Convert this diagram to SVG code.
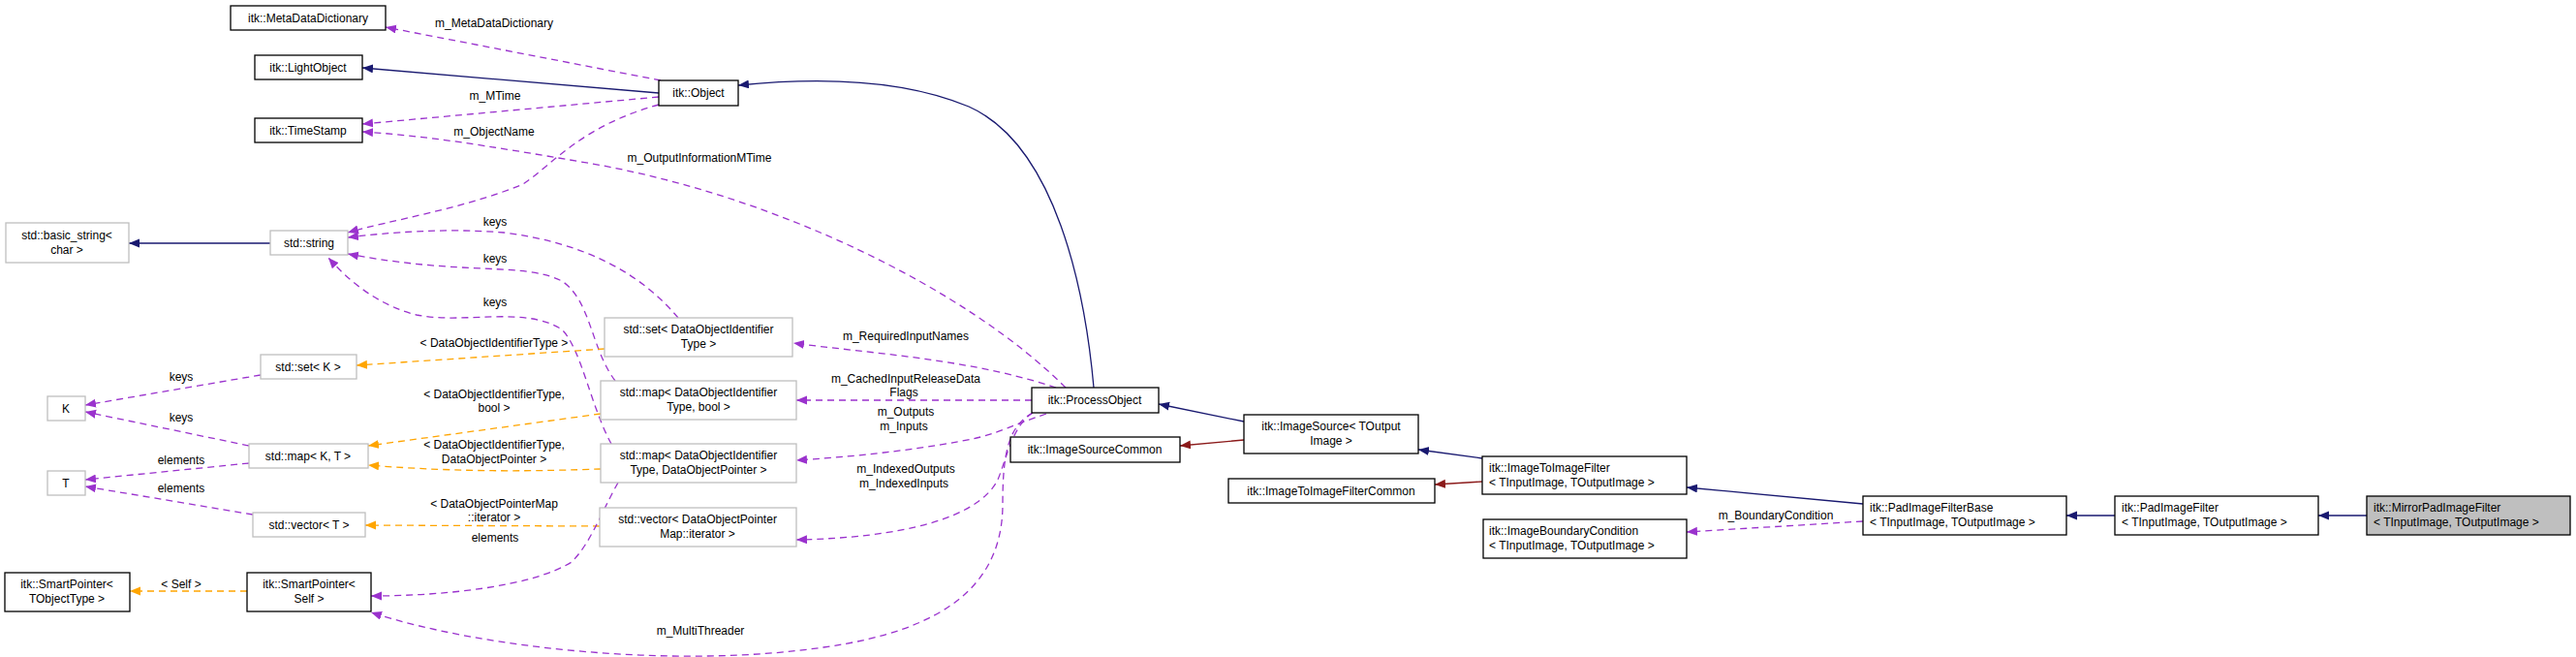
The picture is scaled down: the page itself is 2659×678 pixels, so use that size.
<svg xmlns="http://www.w3.org/2000/svg" width="2659" height="678" viewBox="0 0 2659 678">
<style>
text{font-family:"Liberation Sans",Arial,sans-serif;font-size:12px;fill:#000}
.n rect{fill:#fff;stroke:#000;stroke-width:1.3}
.g rect{fill:#fff;stroke:#bfbfbf;stroke-width:1.3}
.c{text-anchor:middle}
.e path{fill:none;stroke-width:1.3}
.b{stroke:#191970}
.r{stroke:#8b1a1a}
.p{stroke:#9a32cd;stroke-dasharray:7,5}
.o{stroke:#ffa500;stroke-dasharray:7,5}
</style>
<defs>
<marker id="mb" markerUnits="userSpaceOnUse" markerWidth="12" markerHeight="10" refX="11" refY="4.5" orient="auto"><path d="M0,0L11,4.5L0,9z" fill="#191970"/></marker>
<marker id="mr" markerUnits="userSpaceOnUse" markerWidth="12" markerHeight="10" refX="11" refY="4.5" orient="auto"><path d="M0,0L11,4.5L0,9z" fill="#8b1a1a"/></marker>
<marker id="mp" markerUnits="userSpaceOnUse" markerWidth="12" markerHeight="10" refX="11" refY="4.5" orient="auto"><path d="M0,0L11,4.5L0,9z" fill="#9a32cd"/></marker>
<marker id="mo" markerUnits="userSpaceOnUse" markerWidth="12" markerHeight="10" refX="11" refY="4.5" orient="auto"><path d="M0,0L11,4.5L0,9z" fill="#ffa500"/></marker>
</defs>
<rect width="2659" height="678" fill="#fff"/>
<g id="edges" class="e">
<path class="b" marker-end="url(#mb)" d="M680,96L374,70"/>
<path class="b" marker-end="url(#mb)" d="M1129,400C1120,300 1090,150 1000,110C940,85 860,78 762,88"/>
<path class="p" marker-end="url(#mp)" d="M682,83L398,28"/>
<path class="p" marker-end="url(#mp)" d="M680,100L374,128"/>
<path class="p" marker-end="url(#mp)" d="M1100,400C1000,300 800,200 600,167C500,150 440,140 374,136"/>
<path class="p" marker-end="url(#mp)" d="M680,108C600,130 570,170 540,190C480,215 400,228 359,240"/>
<path class="b" marker-end="url(#mb)" d="M279,251L133,251"/>
<path class="p" marker-end="url(#mp)" d="M700,328C660,280 600,250 520,240C460,235 400,240 359,245"/>
<path class="p" marker-end="url(#mp)" d="M635,393C610,360 610,310 580,290C540,270 480,285 359,262"/>
<path class="p" marker-end="url(#mp)" d="M631,458C610,420 600,360 580,340C540,315 480,335 430,325C390,315 360,290 339,266"/>
<path class="o" marker-end="url(#mo)" d="M624,360L368,377"/>
<path class="p" marker-end="url(#mp)" d="M269,387L88,418"/>
<path class="p" marker-end="url(#mp)" d="M257,460L88,425"/>
<path class="p" marker-end="url(#mp)" d="M257,478L88,495"/>
<path class="p" marker-end="url(#mp)" d="M261,531L88,502"/>
<path class="o" marker-end="url(#mo)" d="M620,427L380,460"/>
<path class="o" marker-end="url(#mo)" d="M620,484C560,486 480,488 380,480"/>
<path class="o" marker-end="url(#mo)" d="M619,543L377,542"/>
<path class="o" marker-end="url(#mo)" d="M255,610L134,610"/>
<path class="p" marker-end="url(#mp)" d="M638,498C620,530 610,560 590,580C550,605 460,615 383,615"/>
<path class="p" marker-end="url(#mp)" d="M1066,426C1040,440 1035,470 1035,520C1035,600 980,650 850,668C700,690 500,670 383,632"/>
<path class="p" marker-end="url(#mp)" d="M1090,400C1000,370 900,365 819,354"/>
<path class="p" marker-end="url(#mp)" d="M1065,413L822,413"/>
<path class="p" marker-end="url(#mp)" d="M1080,427C1050,437 1030,447 1008,452C960,462 900,470 822,475"/>
<path class="p" marker-end="url(#mp)" d="M1066,426C1045,440 1040,470 1030,495C1010,535 930,555 822,557"/>
<path class="b" marker-end="url(#mb)" d="M1284,435L1196,417"/>
<path class="r" marker-end="url(#mr)" d="M1284,454L1218,460"/>
<path class="b" marker-end="url(#mb)" d="M1530,473L1464,464"/>
<path class="r" marker-end="url(#mr)" d="M1530,497L1481,500"/>
<path class="b" marker-end="url(#mb)" d="M1923,520L1741,503"/>
<path class="p" marker-end="url(#mp)" d="M1923,538L1741,549"/>
<path class="b" marker-end="url(#mb)" d="M2183,532L2133,532"/>
<path class="b" marker-end="url(#mb)" d="M2443,532L2393,532"/>
</g>
<g id="labels" class="c">
<text x="510" y="28">m_MetaDataDictionary</text>
<text x="511" y="103">m_MTime</text>
<text x="510" y="140">m_ObjectName</text>
<text x="722" y="167">m_OutputInformationMTime</text>
<text x="511" y="233">keys</text>
<text x="511" y="271">keys</text>
<text x="511" y="316">keys</text>
<text x="510" y="358">&lt; DataObjectIdentifierType &gt;</text>
<text x="187" y="393">keys</text>
<text x="187" y="435">keys</text>
<text x="187" y="479">elements</text>
<text x="187" y="508">elements</text>
<text x="510" y="411">&lt; DataObjectIdentifierType,</text>
<text x="510" y="425">bool &gt;</text>
<text x="510" y="463">&lt; DataObjectIdentifierType,</text>
<text x="510" y="478">DataObjectPointer &gt;</text>
<text x="510" y="524">&lt; DataObjectPointerMap</text>
<text x="510" y="538">::iterator &gt;</text>
<text x="511" y="559">elements</text>
<text x="187" y="607">&lt; Self &gt;</text>
<text x="723" y="655">m_MultiThreader</text>
<text x="935" y="351">m_RequiredInputNames</text>
<text x="935" y="395">m_CachedInputReleaseData</text>
<text x="933" y="409">Flags</text>
<text x="935" y="429">m_Outputs</text>
<text x="933" y="444">m_Inputs</text>
<text x="935" y="488">m_IndexedOutputs</text>
<text x="933" y="503">m_IndexedInputs</text>
<text x="1833" y="536">m_BoundaryCondition</text>
</g>
<g id="n_meta" class="n"><rect x="238" y="6" width="160" height="25"/><text class="c" x="318" y="23">itk::MetaDataDictionary</text></g>
<g id="n_light" class="n"><rect x="263" y="57" width="111" height="25"/><text class="c" x="318" y="74">itk::LightObject</text></g>
<g id="n_object" class="n"><rect x="680" y="83" width="82" height="26"/><text class="c" x="721" y="100">itk::Object</text></g>
<g id="n_time" class="n"><rect x="263" y="122" width="111" height="25"/><text class="c" x="318" y="139">itk::TimeStamp</text></g>
<g id="n_basic" class="g"><rect x="6" y="230" width="127" height="41"/><text class="c" x="69" y="247">std::basic_string&lt;</text><text class="c" x="69" y="262">char &gt;</text></g>
<g id="n_string" class="g"><rect x="279" y="238" width="80" height="25"/><text class="c" x="319" y="255">std::string</text></g>
<g id="n_setK" class="g"><rect x="269" y="366" width="99" height="25"/><text class="c" x="318" y="383">std::set&lt; K &gt;</text></g>
<g id="n_K" class="g"><rect x="49" y="409" width="39" height="25"/><text class="c" x="68" y="426">K</text></g>
<g id="n_mapKT" class="g"><rect x="257" y="458" width="123" height="25"/><text class="c" x="318" y="475">std::map&lt; K, T &gt;</text></g>
<g id="n_T" class="g"><rect x="49" y="486" width="39" height="25"/><text class="c" x="68" y="503">T</text></g>
<g id="n_vecT" class="g"><rect x="261" y="529" width="116" height="25"/><text class="c" x="319" y="546">std::vector&lt; T &gt;</text></g>
<g id="n_spT" class="n"><rect x="5" y="591" width="129" height="40"/><text class="c" x="69" y="607">itk::SmartPointer&lt;</text><text class="c" x="69" y="622">TObjectType &gt;</text></g>
<g id="n_spS" class="n"><rect x="255" y="591" width="128" height="40"/><text class="c" x="319" y="607">itk::SmartPointer&lt;</text><text class="c" x="319" y="622">Self &gt;</text></g>
<g id="n_setD" class="g"><rect x="624" y="328" width="194" height="40"/><text class="c" x="721" y="344">std::set&lt; DataObjectIdentifier</text><text class="c" x="721" y="359">Type &gt;</text></g>
<g id="n_mapB" class="g"><rect x="620" y="393" width="202" height="40"/><text class="c" x="721" y="409">std::map&lt; DataObjectIdentifier</text><text class="c" x="721" y="424">Type, bool &gt;</text></g>
<g id="n_mapP" class="g"><rect x="620" y="458" width="202" height="40"/><text class="c" x="721" y="474">std::map&lt; DataObjectIdentifier</text><text class="c" x="721" y="489">Type, DataObjectPointer &gt;</text></g>
<g id="n_vecP" class="g"><rect x="619" y="524" width="203" height="40"/><text class="c" x="720" y="540">std::vector&lt; DataObjectPointer</text><text class="c" x="720" y="555">Map::iterator &gt;</text></g>
<g id="n_proc" class="n"><rect x="1065" y="400" width="131" height="26"/><text class="c" x="1130" y="417">itk::ProcessObject</text></g>
<g id="n_isc" class="n"><rect x="1043" y="451" width="175" height="26"/><text class="c" x="1130" y="468">itk::ImageSourceCommon</text></g>
<g id="n_is" class="n"><rect x="1284" y="428" width="180" height="40"/><text class="c" x="1374" y="444">itk::ImageSource&lt; TOutput</text><text class="c" x="1374" y="459">Image &gt;</text></g>
<g id="n_itic" class="n"><rect x="1268" y="494" width="213" height="25"/><text class="c" x="1374" y="511">itk::ImageToImageFilterCommon</text></g>
<g id="n_itif" class="n"><rect x="1530" y="471" width="211" height="39"/><text x="1537" y="487">itk::ImageToImageFilter</text><text x="1537" y="502">&lt; TInputImage, TOutputImage &gt;</text></g>
<g id="n_ibc" class="n"><rect x="1531" y="536" width="210" height="40"/><text x="1537" y="552">itk::ImageBoundaryCondition</text><text x="1537" y="567">&lt; TInputImage, TOutputImage &gt;</text></g>
<g id="n_padb" class="n"><rect x="1923" y="512" width="210" height="40"/><text x="1930" y="528">itk::PadImageFilterBase</text><text x="1930" y="543">&lt; TInputImage, TOutputImage &gt;</text></g>
<g id="n_pad" class="n"><rect x="2183" y="512" width="210" height="40"/><text x="2190" y="528">itk::PadImageFilter</text><text x="2190" y="543">&lt; TInputImage, TOutputImage &gt;</text></g>
<g id="n_mirror" class="n"><rect x="2443" y="512" width="210" height="40" style="fill:#bfbfbf"/><text x="2450" y="528">itk::MirrorPadImageFilter</text><text x="2450" y="543">&lt; TInputImage, TOutputImage &gt;</text></g>
</svg>
